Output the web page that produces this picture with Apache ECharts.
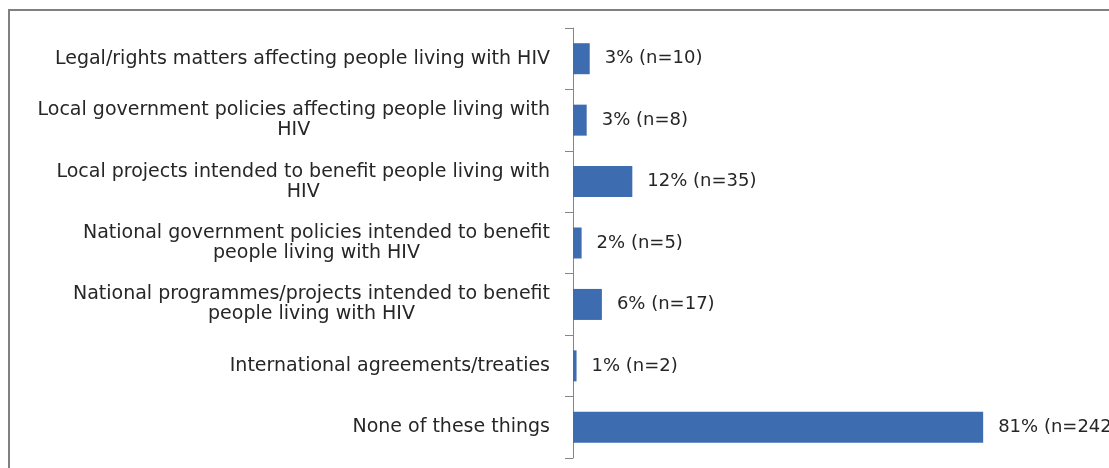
<!DOCTYPE html>
<html>
<head>
<meta charset="utf-8">
<script src="https://cdn.jsdelivr.net/npm/echarts@6/dist/echarts.min.js"></script>
<style>
  html, body { margin: 0; padding: 0; background: #ffffff; }
  #chart { width: 1109px; height: 468px; }
</style>
</head>
<body>
<div id="chart"></div>
<script>
// Survey answers, top to bottom
const categories = [
  'Legal/rights matters affecting people living with HIV',
  'Local government policies affecting people living with\nHIV',
  'Local projects intended to benefit people living with\nHIV',
  'National government policies intended to benefit\npeople living with HIV',
  'National programmes/projects intended to benefit\npeople living with HIV',
  'International agreements/treaties',
  'None of these things'
];
// Share of respondents (%) and number of respondents
const percents = [3.3, 2.7, 11.7, 1.7, 5.7, 0.7, 80.9];
const counts = [10, 8, 35, 5, 17, 2, 242];

const chart = echarts.init(document.getElementById('chart'), null, { renderer: 'canvas' });

const labelFont = {
  fontFamily: 'DejaVu Sans',
  fontSize: 19,
  lineHeight: 20,
  color: '#262626'
};

chart.setOption({
  backgroundColor: '#ffffff',
  animation: false,
  graphic: [{
    type: 'rect',
    shape: { x: 9, y: 10, width: 1300, height: 700 },
    style: { fill: 'none', stroke: '#808080', lineWidth: 2 },
    silent: true
  }],
  grid: { left: 573, right: 29, top: 28, bottom: 10, containLabel: false },
  xAxis: {
    type: 'value',
    min: 0,
    max: 100,
    show: false
  },
  yAxis: {
    type: 'category',
    data: categories,
    inverse: true,
    axisLine: { show: true, lineStyle: { color: '#868686', width: 1 } },
    axisTick: { show: true, inside: false, length: 8, lineStyle: { color: '#868686' } },
    axisLabel: Object.assign({
      margin: 23,
      align: 'right',
      // wrapped lines are centred under each other
      formatter: function (value) {
        return value.split('\n').map(function (line) {
          return '{c|' + line + '}';
        }).join('\n');
      },
      rich: {
        c: Object.assign({ align: 'center' }, labelFont)
      }
    }, labelFont),
    splitLine: { show: false }
  },
  series: [{
    type: 'bar',
    data: percents,
    barWidth: 31,
    itemStyle: { color: '#3d6cb0' },
    label: {
      show: true,
      position: 'right',
      distance: 15,
      fontFamily: 'DejaVu Sans',
      fontSize: 18,
      color: '#262626',
      formatter: function (p) {
        return Math.round(p.value) + '% (n=' + counts[p.dataIndex] + ')';
      }
    }
  }]
});
</script>
</body>
</html>
